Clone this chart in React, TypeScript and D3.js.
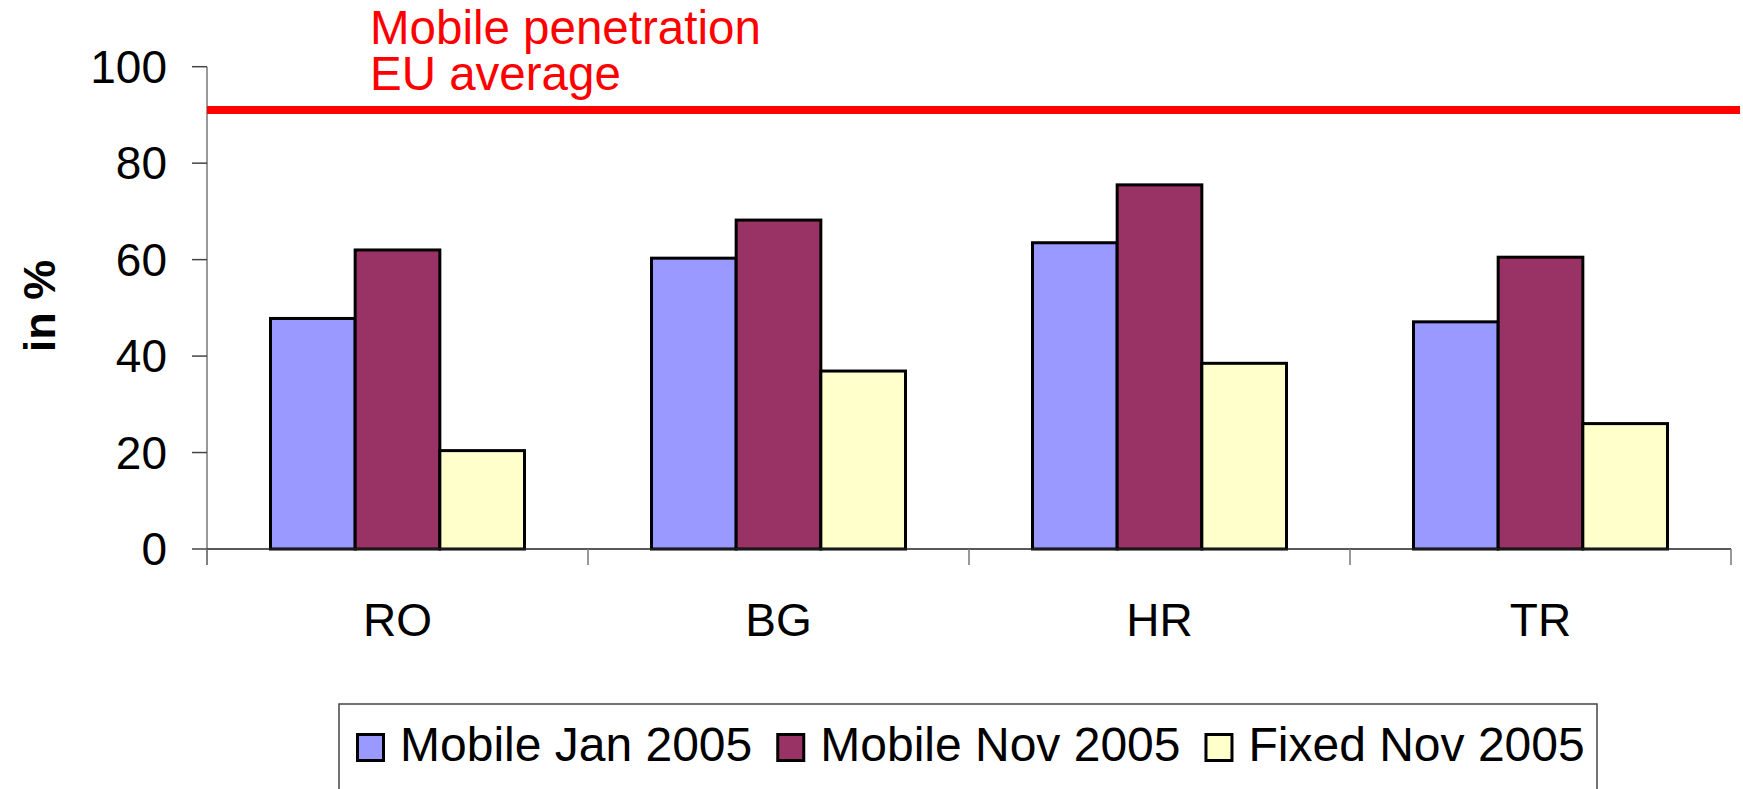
import React, { useEffect, useRef } from 'react';
import * as d3 from 'd3';

const categories = ['RO', 'BG', 'HR', 'TR'];
const seriesNames = ['Mobile Jan 2005', 'Mobile Nov 2005', 'Fixed Nov 2005'];
const mobileJan2005 = [47.8, 60.3, 63.5, 47.1];
const mobileNov2005 = [62.0, 68.2, 75.5, 60.5];
const fixedNov2005 = [20.4, 36.9, 38.5, 26.0];
const seriesColors = ['#9999FF', '#993366', '#FFFFCC'];
const yTicks = [0, 20, 40, 60, 80, 100];
const euAverage = 91;
const euLabel = ['Mobile penetration', 'EU average'];

export default function App() {
  const ref = useRef<SVGSVGElement>(null);

  useEffect(() => {
    document.body.style.margin = '0';
    draw();
  }, []);

  function draw() {
    const width = 1743;
    const height = 789;
    const font = 'Liberation Sans, Arial, sans-serif';
    const left = 207;
    const right = 1731;
    const top = 66.7;
    const bottom = 549;

    const svg = d3.select(ref.current).attr('width', width).attr('height', height);
    svg.selectAll('*').remove();

    const values = [mobileJan2005, mobileNov2005, fixedNov2005];

    const x0 = d3.scaleBand().domain(categories).range([left, right]);
    const x1 = d3
      .scaleBand()
      .domain(seriesNames)
      .range([0, x0.bandwidth()])
      .paddingInner(0)
      .paddingOuter(0.75);
    const y = d3.scaleLinear().domain([0, 100]).range([bottom, top]);

    // bars
    seriesNames.forEach((name, s) => {
      svg
        .append('g')
        .selectAll('rect')
        .data(values[s])
        .join('rect')
        .attr('x', (d, i) => x0(categories[i])! + x1(name)!)
        .attr('y', (d) => y(d))
        .attr('width', x1.bandwidth())
        .attr('height', (d) => bottom - y(d))
        .attr('fill', seriesColors[s])
        .attr('stroke', '#000')
        .attr('stroke-width', 3);
    });

    // y axis
    const ya = svg.append('g');
    ya.append('line')
      .attr('x1', left).attr('x2', left)
      .attr('y1', top).attr('y2', bottom + 16)
      .attr('stroke', '#777').attr('stroke-width', 1.5);
    ya.selectAll('line.tick')
      .data(yTicks)
      .join('line')
      .attr('class', 'tick')
      .attr('x1', left - 15).attr('x2', left)
      .attr('y1', (d) => y(d)).attr('y2', (d) => y(d))
      .attr('stroke', '#444').attr('stroke-width', 1.5);
    ya.selectAll('text')
      .data(yTicks)
      .join('text')
      .attr('x', 167)
      .attr('y', (d) => y(d) + 16)
      .attr('text-anchor', 'end')
      .attr('font-family', font)
      .attr('font-size', 46)
      .text((d) => d);

    // x axis
    const xa = svg.append('g');
    xa.append('line')
      .attr('x1', left).attr('x2', right)
      .attr('y1', bottom).attr('y2', bottom)
      .attr('stroke', '#222').attr('stroke-width', 1.5);
    const edges = categories.map((c) => x0(c)!).concat([right]);
    xa.selectAll('line.tick')
      .data(edges)
      .join('line')
      .attr('class', 'tick')
      .attr('x1', (d) => d).attr('x2', (d) => d)
      .attr('y1', bottom).attr('y2', bottom + 16)
      .attr('stroke', '#777').attr('stroke-width', 1.5);
    xa.selectAll('text')
      .data(categories)
      .join('text')
      .attr('x', (d) => x0(d)! + x0.bandwidth() / 2)
      .attr('y', 636)
      .attr('text-anchor', 'middle')
      .attr('font-family', font)
      .attr('font-size', 46)
      .text((d) => d);

    // y title
    svg.append('text')
      .attr('transform', 'translate(55,306) rotate(-90)')
      .attr('text-anchor', 'middle')
      .attr('font-family', font)
      .attr('font-weight', 'bold')
      .attr('font-size', 45)
      .text('in %');

    // EU average line
    svg.append('line')
      .attr('x1', left).attr('x2', 1740)
      .attr('y1', y(euAverage)).attr('y2', y(euAverage))
      .attr('stroke', '#FF0000').attr('stroke-width', 8);
    svg.append('g')
      .selectAll('text')
      .data(euLabel)
      .join('text')
      .attr('x', 370)
      .attr('y', (d, i) => 44 + i * 46)
      .attr('fill', '#FF0000')
      .attr('font-family', font)
      .attr('font-size', 47.5)
      .text((d) => d);

    // legend
    const lg = svg.append('g');
    lg.append('rect')
      .attr('x', 339).attr('y', 704)
      .attr('width', 1258).attr('height', 100)
      .attr('fill', '#fff')
      .attr('stroke', '#444').attr('stroke-width', 1.5);
    const items = lg.selectAll('g.item').data(seriesNames).join('g').attr('class', 'item');
    items.append('rect')
      .attr('x', 1.5)
      .attr('width', 26).attr('height', 26)
      .attr('y', 734.5)
      .attr('fill', (d, i) => seriesColors[i])
      .attr('stroke', '#000').attr('stroke-width', 3);
    const labels = items.append('text')
      .attr('x', 44)
      .attr('y', 761)
      .attr('font-family', font)
      .attr('font-size', 48)
      .text((d) => d);
    const widths = labels.nodes().map((n) => (n as SVGTextElement).getComputedTextLength() + 44);
    const gap = 24;
    let cx = 356;
    items.each(function (d, i) {
      d3.select(this).attr('transform', `translate(${cx},0)`);
      cx += widths[i] + gap;
    });
  }

  return <svg ref={ref} style={{ display: 'block' }} />;
}
